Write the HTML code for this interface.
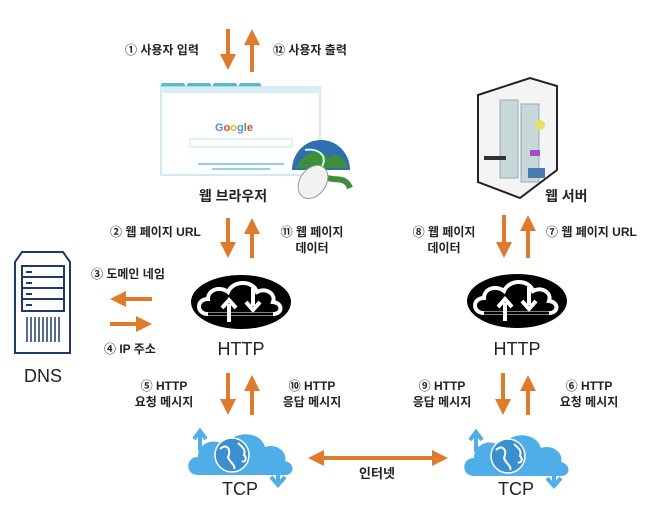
<!DOCTYPE html>
<html><head><meta charset="utf-8"><style>
body{margin:0;width:659px;height:513px;background:#fff;overflow:hidden;position:relative;font-family:"Liberation Sans","Noto Sans CJK KR",sans-serif;}
.t{position:absolute;font-size:12px;color:#222;white-space:nowrap;line-height:16px;font-weight:bold;}
.c{text-align:center;transform:translateX(-50%);}
.b{font-weight:bold;font-size:14px;}
.big{font-size:18px;font-weight:normal;}
svg{position:absolute;left:0;top:0;}
</style></head><body>
<svg width="659" height="513" viewBox="0 0 659 513">
<defs>
<marker id="ah" markerWidth="4" markerHeight="4" refX="2" refY="2" orient="auto" markerUnits="strokeWidth"><path d="M0,0 L4,2 L0,4z" fill="#E07A2C"/></marker>
<g id="cloudB">
<ellipse cx="0" cy="0" rx="50" ry="27" fill="#000"/>
<path d="M-33,12 C-45,12 -45,-3 -33,-3 C-33,-13 -20,-16 -13,-10 C-8,-22 12,-22 16,-10 C25,-15 35,-8 32,0 C42,1 42,12 32,12 Z" fill="none" stroke="#fff" stroke-width="4"/>
<path d="M-33,12 H32" stroke="#000" stroke-width="3"/>
<path d="M-12,20 V2 M-19,6 L-12,-2 L-5,6" stroke="#fff" stroke-width="4" fill="none"/>
<path d="M12,-14 V4 M5,0 L12,8 L19,0" stroke="#fff" stroke-width="4" fill="none"/>
</g>
<g id="cloudT">
<path d="M-42,20 C-55,20 -55,2 -42,2 C-42,-14 -22,-18 -15,-8 C-8,-25 20,-25 25,-8 C35,-12 48,-4 45,6 C55,8 55,20 45,20 Z" fill="#4FAEE8"/>
<circle cx="-8" cy="0" r="17" fill="#3a8fd0" stroke="#fff" stroke-width="1.5"/>
<path d="M-20,-6 C-14,-12 -8,-6 -12,2 C-10,8 -4,10 -6,14 M-2,-12 C2,-8 6,-6 4,0 C8,4 4,8 2,6" stroke="#fff" stroke-width="2" fill="none"/>
<path d="M-40,-4 V-22 M-46,-16 L-40,-24 L-34,-16" stroke="#4FAEE8" stroke-width="4" fill="none"/>
<path d="M38,14 V28 M31,22 L38,30 L45,22" stroke="#4FAEE8" stroke-width="4" fill="none"/>
</g>
</defs>
<g stroke="#E07A2C" stroke-width="4" fill="none" marker-end="url(#ah)">
<path d="M228,29 V62"/><path d="M252,72 V37"/>
<path d="M228,218 V250"/><path d="M252,258 V226"/>
<path d="M152,299 H118"/><path d="M110,324 H144"/>
<path d="M228,373 V407"/><path d="M252,415 V383"/>
<path d="M504,215 V250"/><path d="M528,258 V223"/>
<path d="M503,373 V407"/><path d="M528,415 V383"/>
<path d="M380,458 H440"/><path d="M380,458 H316"/>
</g>
<!-- browser -->
<g>
<path d="M160,87 L162,83 H184 L186,87 L188,83 H210 L212,87 L214,83 H236 L238,87 L240,83 H260 L262,87Z" fill="#5bb9c9"/>
<rect x="161" y="87" width="159" height="88" fill="#fff" stroke="#bfe6ee" stroke-width="1.5"/>
<rect x="161" y="87" width="159" height="6" fill="#d8f0f4"/>
<text x="215" y="131" font-size="11" font-weight="bold" font-family="Liberation Sans" fill="#4a90e2">G<tspan fill="#e94335">o</tspan><tspan fill="#f4b400">o</tspan><tspan fill="#4a90e2">g</tspan><tspan fill="#34a853">l</tspan><tspan fill="#e94335">e</tspan></text>
<rect x="190" y="139" width="102" height="8" fill="#fff" stroke="#bfe6ee"/>
<rect x="198" y="163" width="86" height="2" fill="#8fd3e0"/><rect x="212" y="168" width="58" height="2" fill="#8fd3e0"/>
</g>
<!-- globe & mouse -->
<path d="M292,170 A29,30 0 0 1 350,170 Z" fill="#2e6fb0"/>
<path d="M296,168 C305,150 320,148 330,158 C338,150 345,160 348,168Z" fill="#3f8f3a"/>
<path d="M305,150 C318,148 330,155 320,170" stroke="#cfe" stroke-width="2" fill="none"/>
<path d="M325,177 C335,182 345,175 350,188" stroke="#3f8f3a" stroke-width="6" fill="none"/>
<ellipse cx="313" cy="182" rx="13" ry="18" fill="#f2f2f2" stroke="#999" transform="rotate(35 313 182)"/>
<!-- DNS -->
<g stroke="#1d3a6b" stroke-width="2" fill="#fff">
<path d="M15,262 L22,252 H63 L70,262 V353 H15Z"/>
<rect x="22" y="266" width="42" height="45"/>
<line x1="22" y1="277" x2="64" y2="277"/><line x1="22" y1="288" x2="64" y2="288"/><line x1="22" y1="299" x2="64" y2="299"/>
</g>
<g stroke="#1d3a6b" stroke-width="1.5">
<path d="M27,317V342M31,317V342M35,317V342M39,317V342M43,317V342M47,317V342M51,317V342M55,317V342M59,317V342"/>
<path d="M26,272h6M26,283h6M26,294h6M26,305h6" stroke-width="2"/>
</g>
<!-- server -->
<path d="M478,95 L530,78 L557,86 L557,170 L520,198 L478,182 Z" fill="#f4f4f4" stroke="#222" stroke-width="2"/>
<rect x="500" y="100" width="18" height="78" fill="#c8d8d8" stroke="#9ab"/>
<rect x="521" y="104" width="18" height="78" fill="#c8d8d8" stroke="#9ab"/>
<rect x="484" y="156" width="22" height="4" fill="#333"/>
<rect x="528" y="168" width="17" height="10" fill="#4a78b0"/>
<circle cx="540" cy="125" r="5" fill="#e8e06a"/><rect x="530" y="150" width="10" height="6" fill="#a050c0"/>
<use href="#cloudB" x="241" y="302"/>
<use href="#cloudB" x="517" y="301"/>
<use href="#cloudT" x="240" y="455"/>
<use href="#cloudT" x="516" y="456"/>
</svg>
<div class="t" style="left:125px;top:42px">① 사용자 입력</div>
<div class="t" style="left:273px;top:42px">⑫ 사용자 출력</div>
<div class="t b c" style="left:233px;top:188px">웹 브라우저</div>
<div class="t" style="left:110px;top:224px">② 웹 페이지 URL</div>
<div class="t c" style="left:312px;top:224px">⑪ 웹 페이지<br>데이터</div>
<div class="t" style="left:91px;top:266px">③ 도메인 네임</div>
<div class="t" style="left:104px;top:341px">④ IP 주소</div>
<div class="t big c" style="left:241px;top:341px">HTTP</div>
<div class="t big c" style="left:43px;top:368px">DNS</div>
<div class="t c" style="left:164px;top:378px">⑤ HTTP<br>요청 메시지</div>
<div class="t c" style="left:312px;top:378px">⑩ HTTP<br>응답 메시지</div>
<div class="t big c" style="left:240px;top:481px">TCP</div>
<div class="t c" style="left:377px;top:466px;font-size:13px">인터넷</div>
<div class="t big c" style="left:516px;top:481px">TCP</div>
<div class="t b" style="left:545px;top:188px">웹 서버</div>
<div class="t c" style="left:444px;top:224px">⑧ 웹 페이지<br>데이터</div>
<div class="t" style="left:546px;top:224px">⑦ 웹 페이지 URL</div>
<div class="t big c" style="left:517px;top:341px">HTTP</div>
<div class="t c" style="left:442px;top:378px">⑨ HTTP<br>응답 메시지</div>
<div class="t c" style="left:589px;top:378px">⑥ HTTP<br>요청 메시지</div>
</body></html>
